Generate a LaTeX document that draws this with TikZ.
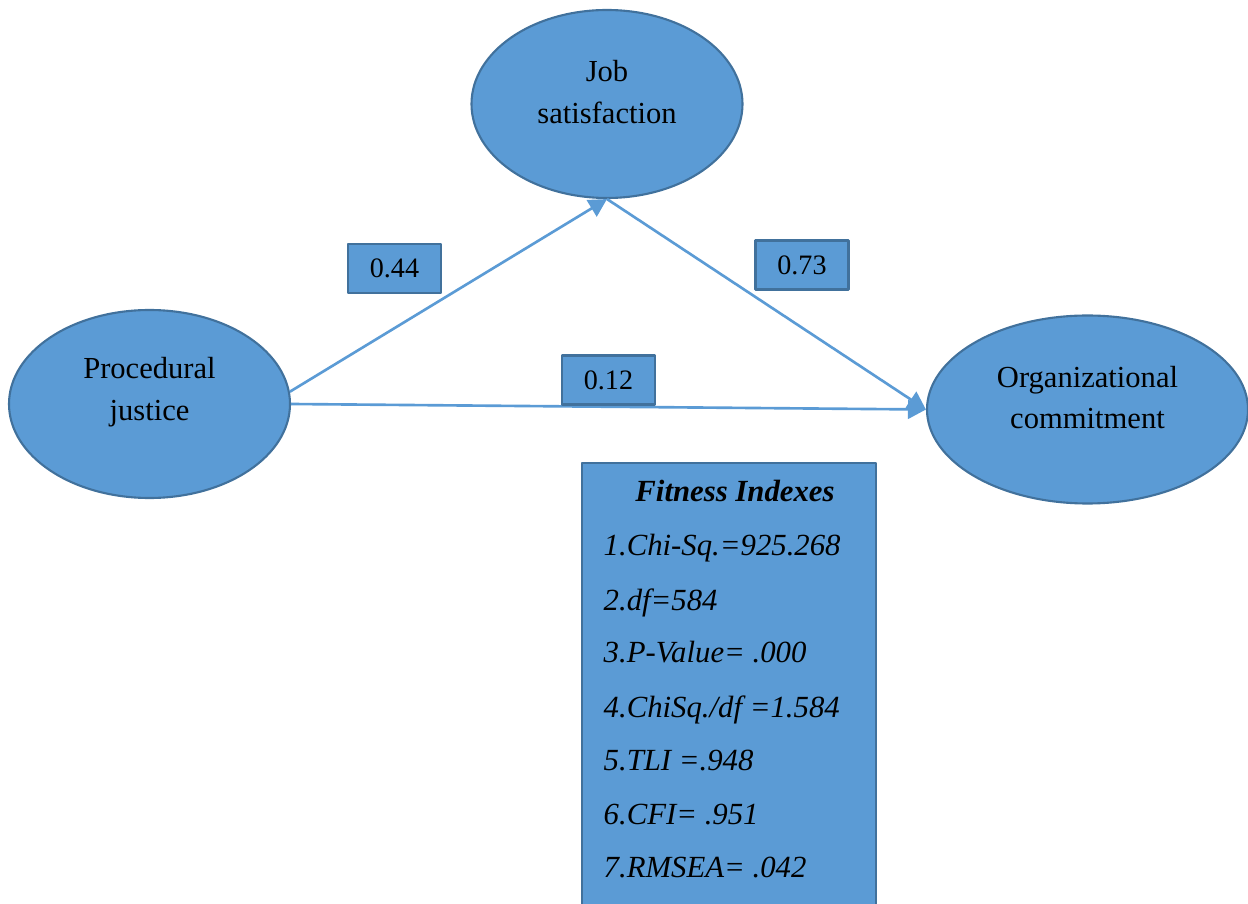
\documentclass[tikz,border=0pt]{standalone}
\usepackage{fontspec}
\setmainfont{Liberation Serif}
\usetikzlibrary{arrows.meta}
\usetikzlibrary{shapes.geometric}
\usetikzlibrary{positioning}
\definecolor{sem-fill}{HTML}{5B9BD5}
\definecolor{sem-edge}{HTML}{41719C}

\tikzset{
  latent/.style={ellipse, draw=sem-edge, line width=1.2pt, fill=sem-fill, inner sep=0pt},
  latenttext/.style={align=center, yshift=0.24cm, font=\fontsize{17.4}{23.6}\selectfont},
  coef/.style={rectangle, draw=sem-edge, line width=1.2pt, fill=sem-fill, minimum width=1.86cm, minimum height=0.98cm, font=\fontsize{16}{19}\selectfont},
  semarrow/.style={-{Triangle[length=0.36cm,width=0.38cm]}, line width=1.5pt, color=sem-fill},
  fitline/.style={anchor=base west, font=\fontsize{17.5}{21}\selectfont\itshape},
}

\begin{document}
\begin{tikzpicture}[line join=round]
    % frame
    \useasboundingbox (0,0) rectangle (24.96,18.06);

    % latent variables
    \node[latent, minimum width=5.42cm, minimum height=3.76cm,
          label={[latenttext]center:Job\\satisfaction}] (js) at (12.14,15.98) {};
    \node[latent, minimum width=5.62cm, minimum height=3.76cm,
          label={[latenttext]center:Procedural\\justice}] (pj) at (2.99,9.98) {};
    \node[latent, minimum width=6.42cm, minimum height=3.76cm,
          label={[latenttext]center:Organizational\\commitment}] (oc) at (21.75,9.87) {};

    % paths
    \draw[semarrow] (pj.5) -- (js.south);
    \draw[semarrow] (js.south) -- (oc.west);
    \draw[semarrow] (pj.east) -- (oc.west);

    % path coefficients
    \node[coef] (c44) at (7.89,12.69) {0.44};
    \node[coef] (c73) at (16.04,12.76) {0.73};
    \node[coef] (c12) at (12.17,10.46) {0.12};

    % fit indexes
    \node[draw=sem-edge, fill=sem-fill, line width=1pt, anchor=north west,
          minimum width=5.88cm, minimum height=8.95cm] (fitbox) at (11.62,8.82) {};
    \node[anchor=base, font=\fontsize{17.5}{21}\selectfont\bfseries\itshape] (fithead) at (14.70,8.02) {Fitness Indexes};
    \node[fitline] (fit1) at (11.95,6.94) {1.Chi-Sq.=925.268};
    \node[fitline] (fit2) at (11.95,5.86) {2.df=584};
    \node[fitline] (fit3) at (11.95,4.80) {3.P-Value= .000};
    \node[fitline] (fit4) at (11.95,3.72) {4.ChiSq./df =1.584};
    \node[fitline] (fit5) at (11.95,2.66) {5.TLI =.948};
    \node[fitline] (fit6) at (11.95,1.58) {6.CFI= .951};
    \node[fitline] (fit7) at (11.95,0.52) {7.RMSEA= .042};

\end{tikzpicture}
\end{document}
